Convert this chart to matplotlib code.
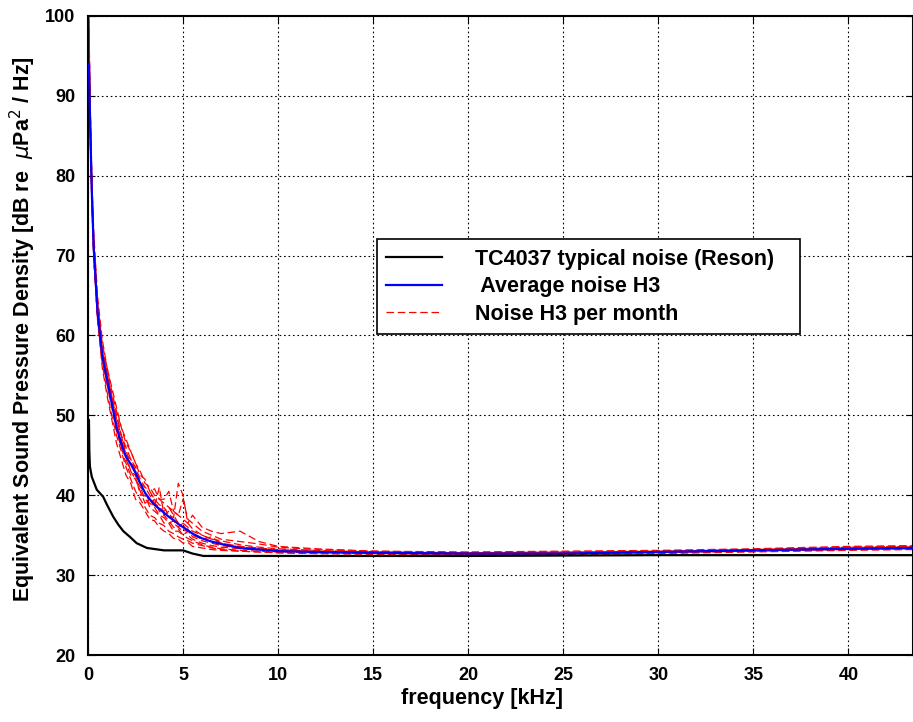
import matplotlib
matplotlib.use("Agg")
import matplotlib.pyplot as plt
from matplotlib import font_manager

############### Data ###############
# Hydrophone self noise (TC4037, Reson)
ref_freq = [0.02, 0.05, 0.07, 0.1, 0.2, 0.46, 0.8, 1.0, 1.33, 1.6, 1.86, 2.2, 2.56, 3.1,
            4.0, 5.0, 5.5, 6.07, 10.0, 20.0, 30.0, 43.4]
ref_noise = [49.5, 49.4, 45.5, 43.6, 42.3, 40.7, 39.8, 38.8, 37.3, 36.3, 35.5, 34.8, 34.0, 33.4,
             33.1, 33.1, 32.7, 32.4, 32.4, 32.4, 32.5, 32.5]

# Frequency grid of the measured spectra [kHz]
freq = [0.05, 0.1, 0.2, 0.3, 0.5, 0.75, 1.0, 1.25, 1.5, 1.75, 2.0, 2.25, 2.5, 2.75, 3.0,
        3.25, 3.5, 3.75, 4.0, 4.25, 4.5, 4.75, 5.0, 5.25, 5.5, 6.0, 6.5, 7.0, 8.0, 9.0,
        10.0, 12.0, 15.0, 20.0, 25.0, 30.0, 35.0, 40.0, 43.4]

# Average noise H3
avg_noise = [94, 88, 78, 71, 63, 57.5, 54.5, 51.5, 48.5, 46.5, 44.8, 43.9, 42.8, 41.5, 40.3,
             39.5, 38.8, 38.3, 37.8, 37.3, 36.9, 36.4, 36.0, 35.6, 35.2, 34.6, 34.2, 33.9, 33.4, 33.2,
             33.0, 32.9, 32.8, 32.7, 32.7, 32.9, 33.1, 33.3, 33.4]

# Noise H3 per month
month_1 = [99.5, 90, 79, 72, 64, 58.5, 55.5, 52.5, 49.5, 47.5, 45, 44.5, 43, 41, 40.5,
           39, 39.5, 38, 37.5, 38, 36.5, 36, 35.5, 35.8, 34.8, 34.3, 34, 33.7, 33.4, 33.2,
           33.1, 33.0, 32.9, 32.7, 32.8, 32.9, 33.2, 33.4, 33.5]
month_2 = [96, 87, 77, 70, 62, 56, 52.5, 49.5, 46.5, 44.5, 42.5, 41.5, 39.5, 39, 38,
           37, 36.8, 36, 35.5, 35.2, 34.6, 34.5, 34, 34.1, 33.6, 33.4, 33.2, 33.1, 33.0, 32.9,
           32.8, 32.7, 32.7, 32.6, 32.6, 32.8, 33.0, 33.2, 33.3]
month_3 = [98, 89, 79, 72, 64, 59, 56, 53.5, 51, 48.5, 46.5, 45.5, 44, 42.5, 42,
           40.5, 40.8, 39.5, 39.5, 40.5, 38, 37.5, 39.5, 37, 36.5, 35.5, 35, 34.5, 34.2, 33.9,
           33.5, 33.2, 33.0, 32.8, 32.9, 33.0, 33.2, 33.5, 33.6]
month_4 = [95, 88, 78, 71, 63, 57, 54, 51, 48, 46, 44, 42.5, 42, 40.5, 39,
           39.5, 38.5, 41, 37.5, 36.8, 36, 35.8, 35, 34.6, 34.3, 33.8, 33.5, 33.3, 33.1, 33.0,
           32.9, 32.8, 32.7, 32.6, 32.7, 32.8, 33.0, 33.2, 33.3]
month_5 = [97, 88, 78, 70, 62, 57, 54.5, 52, 50, 47.5, 46, 44.5, 43.5, 42, 41,
           40.5, 39.5, 38.8, 38.5, 37.5, 37.2, 41.5, 40, 36.5, 35.8, 35, 34.5, 34, 33.6, 33.4,
           33.2, 33.0, 32.9, 32.8, 32.9, 33.0, 33.2, 33.4, 33.5]
month_6 = [99, 89, 78, 71, 63, 58, 55, 52, 49, 47, 44.5, 43, 42, 41, 39.5,
           39, 38.5, 37.5, 37.2, 36.5, 36.8, 36, 36.5, 35, 34.5, 34, 33.7, 33.5, 33.3, 33.2,
           33.1, 32.9, 32.8, 32.7, 32.8, 32.9, 33.1, 33.3, 33.4]
month_7 = [94, 86, 77, 70, 62.5, 56.5, 53, 50, 47.5, 45.5, 43.5, 42, 40.5, 39.5, 38.5,
           37.5, 37.2, 36.5, 36.2, 35.5, 35.2, 34.8, 34.5, 34.3, 34, 33.7, 33.4, 33.2, 33.0, 32.9,
           32.8, 32.7, 32.6, 32.6, 32.6, 32.7, 32.9, 33.1, 33.2]
month_8 = [100, 91, 80, 73, 65, 59.5, 56, 53, 50.5, 48.5, 47, 45.5, 44, 43, 41.5,
           41, 40, 39.5, 39, 38.5, 38, 37.5, 37, 36.5, 37.5, 36, 35.5, 35.2, 35.5, 34.2,
           33.6, 33.3, 33.0, 32.9, 33.0, 33.1, 33.3, 33.6, 33.7]
month_9 = [97, 87, 77, 70, 63, 57.5, 54, 51.5, 49, 46, 45, 43, 42.5, 40, 40,
           38.5, 38, 37.5, 36.5, 36.5, 35.5, 35.5, 35, 35.5, 35, 34.5, 34.8, 34, 33.5, 33.3,
           33.1, 32.9, 32.8, 32.7, 32.7, 32.9, 33.1, 33.3, 33.4]
month_10 = [98.5, 90, 79, 71, 63.5, 58, 55, 52.5, 50, 47.5, 45.5, 44, 43.5, 41.5, 41,
            40, 39, 38.5, 38, 38.5, 37.5, 36.5, 36.5, 36, 35.5, 35, 34.5, 34.3, 33.8, 33.5,
            33.3, 33.1, 32.9, 32.8, 32.9, 33.0, 33.2, 33.5, 33.6]
months = [month_1, month_2, month_3, month_4, month_5, month_6, month_7, month_8, month_9, month_10]

x_ticks = [0, 5, 10, 15, 20, 25, 30, 35, 40]
y_ticks = [20, 30, 40, 50, 60, 70, 80, 90, 100]

############### Fonts ###############
names = {f.name for f in font_manager.fontManager.ttflist}
narrow = "Liberation Sans Narrow" if "Liberation Sans Narrow" in names else "Liberation Sans"
plt.rcParams["font.family"] = ["Liberation Sans", "DejaVu Sans"]

############### Plot ###############
fig = plt.figure(figsize=(9.13, 7.22), dpi=100)
ax = fig.add_axes([88 / 913, 1 - 655 / 722, 1 - 88 / 913, (655 - 16) / 722])

# monthly spectra first, so the average and the reference lie on top
for i, m in enumerate(months):
    ax.plot(freq, m, color="red", linewidth=0.9, dashes=(6, 3),
            label="Noise H3 per month" if i == 0 else None, zorder=2)
ax.plot(freq, avg_noise, color="blue", linewidth=1.6, label=" Average noise H3", zorder=3)
ax.plot(ref_freq, ref_noise, color="black", linewidth=1.6,
        label="TC4037 typical noise (Reson)", zorder=3)

ax.set_xlim(0, 43.4)
ax.set_ylim(20, 100)
ax.set_xticks(x_ticks)
ax.set_yticks(y_ticks)
ax.grid(True, color="black", linestyle=(0, (1.5, 2.5)), linewidth=0.8)
ax.tick_params(direction="in", length=5, top=True, right=True, pad=9)
for lab in ax.get_xticklabels() + ax.get_yticklabels():
    lab.set_family(narrow)
    lab.set_fontweight("bold")
    lab.set_fontsize(13)
for s in ax.spines.values():
    s.set_linewidth(1.5)

ax.set_xlabel("frequency [kHz]", family=narrow, fontweight="bold", fontsize=15.5)
ax.xaxis.set_label_coords((482 - 88) / 825, -0.052)
ax.set_ylabel(r"Equivalent Sound Pressure Density [dB re  $\mu$Pa$^2$ / Hz]",
              fontweight="bold", fontsize=15.5)
ax.yaxis.set_label_coords(-50 / 825, 0.51)

# legend order: reference, average, monthly
handles, labels = ax.get_legend_handles_labels()
order = [2, 1, 0]
leg = ax.legend([handles[k] for k in order], [labels[k] for k in order],
                loc="lower left", bbox_to_anchor=(0.350, 0.502, 0.513, 0.158), mode="expand",
                borderaxespad=0, fancybox=False, framealpha=1, edgecolor="black",
                handlelength=2.6, handletextpad=1.5, labelspacing=0.3, borderpad=0.45,
                prop={"weight": "bold", "size": 15.5})
leg.get_frame().set_linewidth(1.2)

plt.savefig("out.png", dpi=100)
